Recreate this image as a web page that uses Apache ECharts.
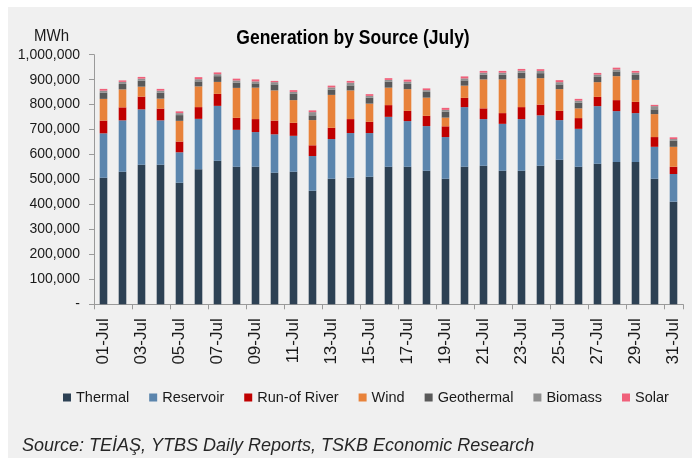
<!DOCTYPE html>
<html>
<head>
<meta charset="utf-8">
<script src="https://cdn.jsdelivr.net/npm/echarts@6/dist/echarts.min.js"></script>
<style>
html,body{margin:0;padding:0;background:#ffffff;}
#chart{width:693px;height:458px;}
</style>
</head>
<body>
<div id="chart"></div>
<script>
// Daily generation by source, July (MWh)
const days = ["01-Jul","02-Jul","03-Jul","04-Jul","05-Jul","06-Jul","07-Jul","08-Jul","09-Jul","10-Jul","11-Jul","12-Jul","13-Jul","14-Jul","15-Jul","16-Jul","17-Jul","18-Jul","19-Jul","20-Jul","21-Jul","22-Jul","23-Jul","24-Jul","25-Jul","26-Jul","27-Jul","28-Jul","29-Jul","30-Jul","31-Jul"];
const thermal = [507000,531000,559000,559000,487000,541000,575000,551000,551000,527000,531000,455000,503000,507000,511000,551000,551000,535000,503000,551000,555000,535000,535000,555000,579000,551000,563000,570000,570000,503000,411000];
const reservoir = [178000,206000,222000,178000,122000,202000,220000,148000,139000,154000,144000,139000,159000,179000,175000,200000,183000,179000,167000,239000,187000,188000,207000,202000,159000,152000,231000,204000,196000,128000,111000];
const runOfRiver = [51000,52000,51000,47000,43000,47000,48000,48000,52000,55000,52000,43000,45000,56000,45000,47000,41000,41000,43000,37000,43000,43000,48000,43000,37000,43000,37000,44000,45000,39000,29000];
const wind = [87000,72000,40000,40000,83000,83000,48000,120000,126000,121000,91000,101000,132000,115000,73000,70000,87000,73000,35000,49000,116000,135000,115000,106000,87000,39000,59000,96000,88000,92000,80000];
const geothermal = [25000,22000,24000,24000,23000,20000,23000,21000,17000,24000,25000,19000,21000,20000,24000,24000,21000,23000,24000,21000,19000,19000,23000,20000,19000,23000,21000,19000,20000,19000,24000];
const biomass = [8000,8000,8000,8000,8000,9000,8000,9000,8000,9000,8000,13000,9000,11000,7000,7000,9000,7000,7000,8000,8000,8000,8000,9000,9000,8000,9000,8000,9000,13000,7000];
const solar = [7000,6000,7000,7000,7000,8000,7000,7000,8000,5000,7000,7000,7000,7000,7000,7000,8000,7000,8000,8000,7000,7000,7000,7000,8000,7000,7000,7000,7000,5000,7000];

const seriesNames = ["Thermal","Reservoir","Run-of River","Wind","Geothermal","Biomass","Solar"];
const seriesData = [thermal, reservoir, runOfRiver, wind, geothermal, biomass, solar];
const colors = ["#2d4154","#5b85ad","#c00000","#e8823a","#595959","#8f8f8f","#f0607a"];

const FONT = "'Liberation Sans', Arial, sans-serif";

const chart = echarts.init(document.getElementById('chart'), null, {renderer:'canvas'});
chart.setOption({
  animation: false,
  backgroundColor: 'transparent',
  color: colors,
  graphic: [
    {type:'rect', z:-10, shape:{x:8, y:7, width:684, height:451}, style:{fill:'#f0f0f0'}},
    {type:'text', x:353, y:38, scaleY:1.2, style:{x:0, y:0, text:'Generation by Source (July)', font:"bold 17.5px " + FONT, fill:'#000', textAlign:'center', textVerticalAlign:'middle'}},
    {type:'text', x:34, y:36, scaleY:1.1, style:{x:0, y:0, text:'MWh', font:"15px " + FONT, fill:'#1a1a1a', textAlign:'left', textVerticalAlign:'middle'}},
    {type:'text', x:22, y:446, style:{x:0, y:0, text:'Source: TEİAŞ, YTBS Daily Reports, TSKB Economic Research', font:"italic 18px " + FONT, fill:'#262626', textAlign:'left', textVerticalAlign:'middle'}}
  ],
  legend: {
    left: 63, top: 390, padding: 0,
    itemWidth: 8, itemHeight: 8, itemGap: 20,
    icon: 'rect',
    textStyle: {fontFamily: FONT, fontSize: 14.5, color:'#1a1a1a'},
    data: seriesNames
  },
  grid: {left: 94, right: 10, top: 54.7, bottom: 153.7, containLabel: false},
  xAxis: {
    type: 'category',
    data: days,
    boundaryGap: true,
    axisLine: {lineStyle:{color:'#9a9a9a', width:1}},
    axisTick: {show:true, interval:1, length:5, lineStyle:{color:'#9a9a9a'}},
    axisLabel: {interval:1, rotate:90, margin:14, fontFamily:FONT, fontSize:17, color:'#1a1a1a'}
  },
  yAxis: {
    type: 'value',
    min: 0, max: 1000000, interval: 100000,
    splitLine: {show:false},
    axisLine: {show:true, lineStyle:{color:'#9a9a9a'}},
    axisTick: {show:true, length:5, lineStyle:{color:'#9a9a9a'}},
    axisLabel: {
      margin: 14, fontFamily: FONT, fontSize: 14, color:'#1a1a1a',
      formatter: v => v === 0 ? '-' : v.toLocaleString('en-US')
    }
  },
  series: seriesNames.map((n, i) => ({
    name: n,
    type: 'bar',
    stack: 'total',
    barWidth: '40%',
    data: seriesData[i],
    itemStyle: {color: colors[i]}
  }))
});
</script>
</body>
</html>
